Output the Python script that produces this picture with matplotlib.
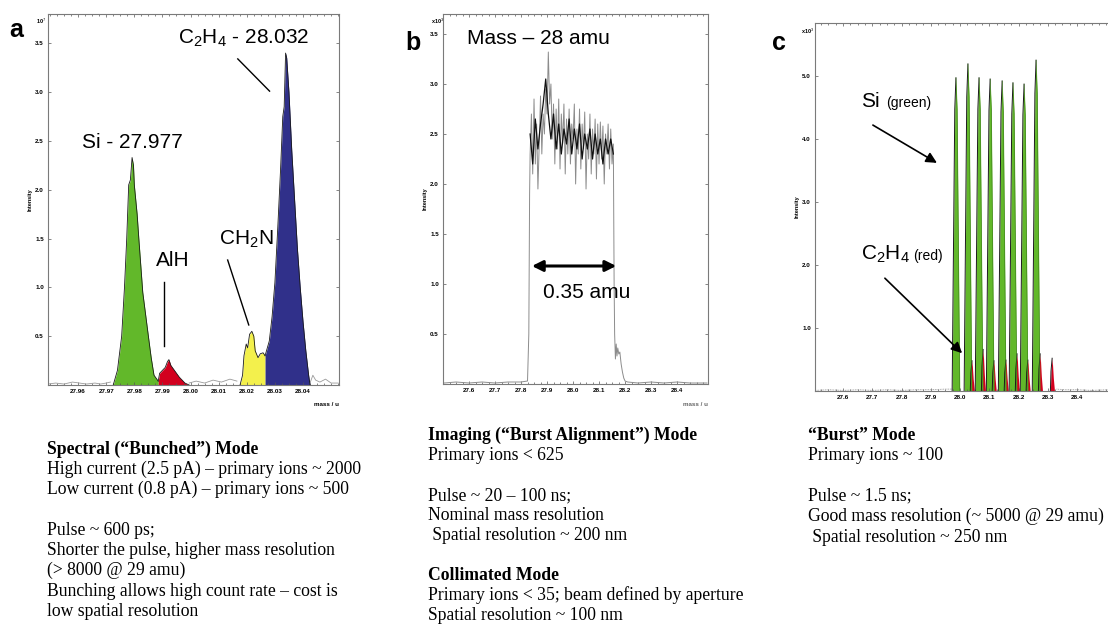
import matplotlib.pyplot as plt
from matplotlib.ticker import AutoMinorLocator

plt.rcParams['font.family'] = ['Liberation Sans', 'DejaVu Sans']
plt.rcParams['mathtext.fontset'] = 'custom'
plt.rcParams['mathtext.rm'] = 'Liberation Sans'
plt.rcParams['mathtext.it'] = 'Liberation Sans:italic'
plt.rcParams['mathtext.bf'] = 'Liberation Sans:bold'

# ---- panel a : spectral mode, four resolved peaks near mass 28 ----
a_noise_mass = [27.9494, 27.952, 27.955, 27.958, 27.9605, 27.963, 27.966, 27.968, 27.970, 27.9715,
                27.9995, 28.002, 28.005, 28.008, 28.011, 28.014, 28.0165,
                28.0425, 28.0435, 28.0445, 28.046, 28.048, 28.050, 28.0525]
a_noise_int = [0.01, 0.02, 0.01, 0.03, 0.02, 0.01, 0.02, 0.01, 0.02, 0.03,
               0.02, 0.04, 0.02, 0.05, 0.03, 0.06, 0.04,
               0.02, 0.10, 0.05, 0.03, 0.06, 0.02, 0.02]
si_mass = [27.9725, 27.974, 27.9755, 27.9765, 27.9773, 27.978, 27.9786, 27.9792, 27.9797,
           27.980, 27.981, 27.9816, 27.983, 27.985, 27.986, 27.987, 27.9885]
si_int = [0.0, 0.15, 0.5, 1.0, 1.5, 2.05, 2.1, 2.33, 2.25,
          2.05, 1.75, 1.5, 0.95, 0.5, 0.28, 0.1, 0.04]
alh_mass = [27.9885, 27.989, 27.990, 27.991, 27.9918, 27.9923, 27.993, 27.994, 27.995,
            27.996, 27.997, 27.998, 27.9995]
alh_int = [0.04, 0.12, 0.15, 0.18, 0.24, 0.26, 0.2, 0.16, 0.12, 0.08, 0.05, 0.02, 0.0]
ch2n_mass = [28.0176, 28.0185, 28.019, 28.0198, 28.0203, 28.021, 28.0218, 28.0225, 28.023,
             28.024, 28.0248, 28.0258, 28.0265]
ch2n_int = [0.0, 0.1, 0.3, 0.42, 0.38, 0.52, 0.55, 0.5, 0.35, 0.28, 0.32, 0.33, 0.3]
c2h4_mass = [28.0265, 28.027, 28.028, 28.029, 28.030, 28.031, 28.032, 28.0328, 28.0333,
             28.0338, 28.0342, 28.035, 28.036, 28.037, 28.038, 28.039, 28.040, 28.041,
             28.042, 28.0425]
c2h4_int = [0.3, 0.35, 0.45, 0.7, 1.05, 1.6, 2.2, 2.75, 2.85,
            3.4, 3.35, 3.0, 2.4, 1.9, 1.4, 1.0, 0.65, 0.35, 0.1, 0.0]
a_ticks = [27.96, 27.97, 27.98, 27.99, 28.00, 28.01, 28.02, 28.03, 28.04]
a_yticks = [0.5, 1.0, 1.5, 2.0, 2.5, 3.0, 3.5]

# ---- panel b : burst alignment mode, flat-topped peak ----
b_mass = [27.505, 27.55, 27.60, 27.65, 27.70, 27.75, 27.80, 27.825, 27.830, 27.833,
          27.835, 27.840, 27.845, 27.850, 27.855, 27.860, 27.865, 27.870, 27.875, 27.880,
          27.885, 27.890, 27.895, 27.900, 27.905, 27.910, 27.915, 27.920, 27.925, 27.930,
          27.935, 27.940, 27.945, 27.950, 27.955, 27.960, 27.965, 27.970, 27.975, 27.980,
          27.985, 27.990, 27.995, 28.000, 28.005, 28.010, 28.015, 28.020, 28.025, 28.030,
          28.035, 28.040, 28.045, 28.050, 28.055, 28.060, 28.065, 28.070, 28.075, 28.080,
          28.085, 28.090, 28.095, 28.100, 28.105, 28.110, 28.115, 28.120, 28.125, 28.130,
          28.135, 28.140, 28.145, 28.150, 28.155, 28.158, 28.160, 28.163, 28.166, 28.169,
          28.172, 28.176, 28.180, 28.185, 28.190, 28.195, 28.200, 28.210, 28.250, 28.300,
          28.350, 28.400, 28.450, 28.515]
b_raw = [0.01, 0.02, 0.01, 0.02, 0.01, 0.02, 0.02, 0.03, 0.5, 1.9,
         2.3, 2.7, 2.1, 2.85, 2.2, 2.6, 1.95, 2.4, 2.88, 2.3,
         2.7, 2.5, 2.95, 2.7, 3.32, 2.8, 3.0, 2.45, 2.8, 2.2,
         2.75, 2.35, 2.85, 2.15, 2.7, 2.4, 2.8, 2.1, 2.65, 2.3,
         2.75, 2.2, 2.6, 2.45, 2.8, 2.0, 2.55, 2.3, 2.75, 2.15,
         2.6, 2.35, 2.72, 1.95, 2.5, 2.25, 2.7, 2.1, 2.55, 2.3,
         2.65, 2.05, 2.6, 2.2, 2.62, 2.25, 2.58, 2.0, 2.5, 2.3,
         2.6, 2.15, 2.55, 2.2, 2.4, 1.0, 0.5, 0.25, 0.4, 0.28,
         0.36, 0.3, 0.32, 0.2, 0.12, 0.06, 0.03, 0.02, 0.01, 0.02,
         0.01, 0.02, 0.01, 0.01]
b_avg_mass = [27.835, 27.845, 27.855, 27.865, 27.875, 27.885, 27.895, 27.905, 27.915, 27.925,
              27.935, 27.945, 27.955, 27.965, 27.975, 27.985, 27.995, 28.005, 28.015, 28.025,
              28.035, 28.045, 28.055, 28.065, 28.075, 28.085, 28.095, 28.105, 28.115, 28.125,
              28.135, 28.145, 28.155]
b_avg = [2.5, 2.2, 2.65, 2.35, 2.6, 2.8, 3.05, 2.7, 2.45, 2.7,
         2.35, 2.6, 2.3, 2.55, 2.4, 2.65, 2.3, 2.55, 2.35, 2.6,
         2.25, 2.5, 2.35, 2.55, 2.25, 2.5, 2.3, 2.45, 2.2, 2.45,
         2.3, 2.45, 2.3]
bc_ticks = [27.6, 27.7, 27.8, 27.9, 28.0, 28.1, 28.2, 28.3, 28.4]
b_yticks = [0.5, 1.0, 1.5, 2.0, 2.5, 3.0, 3.5]

# ---- panel c : burst mode, train of narrow pulses ----
c_si_mass = [27.986, 28.027, 28.065, 28.103, 28.144, 28.181, 28.219, 28.260]
c_si_int = [4.97, 5.19, 4.97, 4.95, 4.92, 4.89, 4.87, 5.25]
c_c2h4_mass = [28.041, 28.079, 28.116, 28.157, 28.195, 28.232, 28.274, 28.315]
c_c2h4_int = [0.48, 0.66, 0.48, 0.49, 0.59, 0.49, 0.59, 0.52]
si_pulse_offset = [-0.013, -0.010, -0.004, 0.0, 0.004, 0.010, 0.013]
si_pulse_shape = [0.0, 0.3, 0.9, 1.0, 0.9, 0.3, 0.0]
c2h4_pulse_offset = [-0.006, -0.004, 0.0, 0.004, 0.008]
c2h4_pulse_shape = [0.0, 0.6, 1.0, 0.4, 0.0]
c_noise_mass = [27.504, 27.55, 27.60, 27.65, 27.70, 27.75, 27.80, 27.85, 27.90, 27.95, 27.975,
                28.33, 28.36, 28.40, 28.45, 28.506]
c_noise_int = [0.01, 0.02, 0.01, 0.02, 0.01, 0.02, 0.01, 0.02, 0.02, 0.03, 0.03,
               0.03, 0.02, 0.02, 0.01, 0.02]
c_yticks = [1.0, 2.0, 3.0, 4.0, 5.0]

# ---- text blocks below the panels ----
a_notes = [("Spectral (\u201cBunched\u201d) Mode", True),
           ("High current (2.5 pA) \u2013 primary ions ~ 2000", False),
           ("Low current (0.8 pA) \u2013 primary ions ~ 500", False),
           ("", False),
           ("Pulse ~ 600 ps;", False),
           ("Shorter the pulse, higher mass resolution", False),
           ("(> 8000 @ 29 amu)", False),
           ("Bunching allows high count rate \u2013 cost is", False),
           ("low spatial resolution", False)]
b_notes = [("Imaging (\u201cBurst Alignment\u201d) Mode", True),
           ("Primary ions < 625", False),
           ("", False),
           ("Pulse ~ 20 \u2013 100 ns;", False),
           ("Nominal mass resolution", False),
           (" Spatial resolution ~ 200 nm", False),
           ("", False),
           ("Collimated Mode", True),
           ("Primary ions < 35; beam defined by aperture", False),
           ("Spatial resolution ~ 100 nm", False)]
c_notes = [("\u201cBurst\u201d Mode", True),
           ("Primary ions ~ 100", False),
           ("", False),
           ("Pulse ~ 1.5 ns;", False),
           ("Good mass resolution (~ 5000 @ 29 amu)", False),
           (" Spatial resolution ~ 250 nm", False)]

W, H = 1108, 624
GREEN = '#62b82a'
RED = '#d2001e'
YELLOW = '#f3f04c'
BLUE = '#30308a'
EDGE = '#1a1a1a'


def px(x, y):
    return x / W, 1 - y / H


def box(left, top, right, bottom):
    return [left / W, 1 - bottom / H, (right - left) / W, (bottom - top) / H]


def style_axes(ax, xticks, xfmt, yticks, yfmt, right=True):
    for s in ax.spines.values():
        s.set_color('#7a7a7a')
        s.set_linewidth(0.8)
    ax.set_xticks(xticks, [xfmt.format(t) for t in xticks], fontsize=4.5, fontweight='bold')
    ax.set_yticks(yticks, [yfmt.format(t) for t in yticks], fontsize=4.5, fontweight='bold')
    ax.xaxis.set_minor_locator(AutoMinorLocator(4))
    ax.tick_params(which='major', direction='in', length=2.5, width=0.5, top=True, right=right,
                   pad=3, colors='#555555', labelcolor='black')
    ax.tick_params(which='minor', direction='in', length=1.5, width=0.5, top=True,
                   colors='#555555')
    ax.set_ylabel('Intensity', fontsize=4, fontweight='bold', labelpad=2)


def draw_notes(notes, x0, y0, step=20.3):
    for i, (line, bold) in enumerate(notes):
        if not line:
            continue
        fx, fy = px(x0, y0 + i * step)
        fig.text(fx, fy, line, fontsize=12.7, family='Liberation Serif',
                 fontweight='bold' if bold else 'normal', va='baseline', ha='left')


fig = plt.figure(figsize=(W / 100, H / 100), dpi=100)

# ---------------- panel a ----------------
ax_a = fig.add_axes(box(48, 14, 339, 385))
ax_a.plot(a_noise_mass[:10], a_noise_int[:10], color='#9a9a9a', lw=0.6)
ax_a.plot(a_noise_mass[10:17], a_noise_int[10:17], color='#9a9a9a', lw=0.6)
ax_a.plot(a_noise_mass[17:], a_noise_int[17:], color='#9a9a9a', lw=0.6)
for m, v, c in [(si_mass, si_int, GREEN), (alh_mass, alh_int, RED),
                (ch2n_mass, ch2n_int, YELLOW), (c2h4_mass, c2h4_int, BLUE)]:
    ax_a.fill_between(m, v, 0, color=c, lw=0)
    ax_a.plot(m, v, color=EDGE, lw=0.6)
ax_a.set_xlim(27.9493, 28.0528)
ax_a.set_ylim(0, 3.8)
style_axes(ax_a, a_ticks, '{:.2f}', a_yticks, '{:.1f}')
ax_a.text(1.0, -0.045, 'mass / u', transform=ax_a.transAxes, fontsize=4.5,
          fontweight='bold', ha='right', va='top')
ax_a.text(27.9955, 3.50, r'C$_2$H$_4$ - 28.032', fontsize=15, va='baseline')
ax_a.plot([28.0168, 28.0281], [3.34, 3.01], color='black', lw=1.0)
ax_a.text(27.9615, 2.43, 'Si - 27.977', fontsize=15, va='baseline')
ax_a.text(27.9877, 1.22, 'AlH', fontsize=15, va='baseline')
ax_a.plot([27.9905, 27.9905], [1.055, 0.40], color='black', lw=1.0)
ax_a.text(28.0100, 1.44, r'CH$_2$N', fontsize=15, va='baseline')
ax_a.plot([28.0132, 28.0207], [1.28, 0.615], color='black', lw=1.0)
fig.text(*px(36, 24), r'10$^7$', fontsize=4, fontweight='bold')

# ---------------- panel b ----------------
ax_b = fig.add_axes(box(443, 14, 708, 384))
ax_b.plot(b_mass, b_raw, color='#8c8c8c', lw=0.7)
ax_b.plot(b_avg_mass, b_avg, color='#111111', lw=0.9)
ax_b.set_xlim(27.5, 28.519)
ax_b.set_ylim(0, 3.7)
style_axes(ax_b, bc_ticks, '{:.1f}', b_yticks, '{:.1f}')
ax_b.text(1.0, -0.05, 'mass / u', transform=ax_b.transAxes, fontsize=4.5,
          fontweight='bold', ha='right', va='top', color='#666666')
ax_b.text(27.592, 3.40, 'Mass \u2013 28 amu', fontsize=15, va='baseline')
ax_b.annotate('', xy=(27.842, 1.18), xytext=(28.166, 1.18),
              arrowprops=dict(arrowstyle='<|-|>', color='black', lw=2.2,
                              mutation_scale=16, shrinkA=0, shrinkB=0))
ax_b.text(27.885, 0.86, '0.35 amu', fontsize=15, va='baseline')
fig.text(*px(431, 24), r'x10$^3$', fontsize=4, fontweight='bold')

# ---------------- panel c ----------------
ax_c = fig.add_axes(box(815, 23, 1108, 391))
ax_c.plot(c_noise_mass[:11], c_noise_int[:11], color='#8c8c8c', lw=0.6, ls=(0, (1, 1)))
ax_c.plot(c_noise_mass[11:], c_noise_int[11:], color='#8c8c8c', lw=0.6, ls=(0, (1, 1)))
for m0, h in zip(c_c2h4_mass, c_c2h4_int):
    xs = [m0 + d for d in c2h4_pulse_offset]
    ys = [h * s for s in c2h4_pulse_shape]
    ax_c.fill_between(xs, ys, 0, color=RED, lw=0)
    ax_c.plot(xs[:3], ys[:3], color=EDGE, lw=0.7)
for m0, h in zip(c_si_mass, c_si_int):
    xs = [m0 + d for d in si_pulse_offset]
    ys = [h * s for s in si_pulse_shape]
    ax_c.fill_between(xs, ys, 0, color=GREEN, lw=0)
    ax_c.plot(xs[:4], ys[:4], color=EDGE, lw=0.7)
    ax_c.plot(xs[3:], ys[3:], color='#3a7a1a', lw=0.4)
ax_c.set_xlim(27.504, 28.506)
ax_c.set_ylim(0, 5.84)
style_axes(ax_c, bc_ticks, '{:.1f}', c_yticks, '{:.1f}', right=False)
ax_c.spines['right'].set_visible(False)
ax_c.text(27.661, 4.51, 'Si', fontsize=15, va='baseline')
ax_c.text(27.747, 4.51, '(green)', fontsize=10, va='baseline')
ax_c.annotate('', xy=(27.921, 3.62), xytext=(27.702, 4.22),
              arrowprops=dict(arrowstyle='-|>', color='black', lw=1.2,
                              mutation_scale=16, shrinkA=0, shrinkB=0))
ax_c.text(27.661, 2.08, r'C$_2$H$_4$', fontsize=15, va='baseline')
ax_c.text(27.839, 2.08, '(red)', fontsize=10, va='baseline')
ax_c.annotate('', xy=(28.007, 0.60), xytext=(27.743, 1.79),
              arrowprops=dict(arrowstyle='-|>', color='black', lw=1.2,
                              mutation_scale=16, shrinkA=0, shrinkB=0))
fig.text(*px(801, 34), r'x10$^3$', fontsize=4, fontweight='bold')

# panel letters
fig.text(*px(9, 37), 'a', fontsize=18, fontweight='bold', va='baseline')
fig.text(*px(405, 50), 'b', fontsize=18, fontweight='bold', va='baseline')
fig.text(*px(772, 50), 'c', fontsize=18, fontweight='bold', va='baseline')

draw_notes(a_notes, 47, 453.5)
draw_notes(b_notes, 428, 440, step=20.0)
draw_notes(c_notes, 808, 440)

fig.savefig('out.png', dpi=100)
